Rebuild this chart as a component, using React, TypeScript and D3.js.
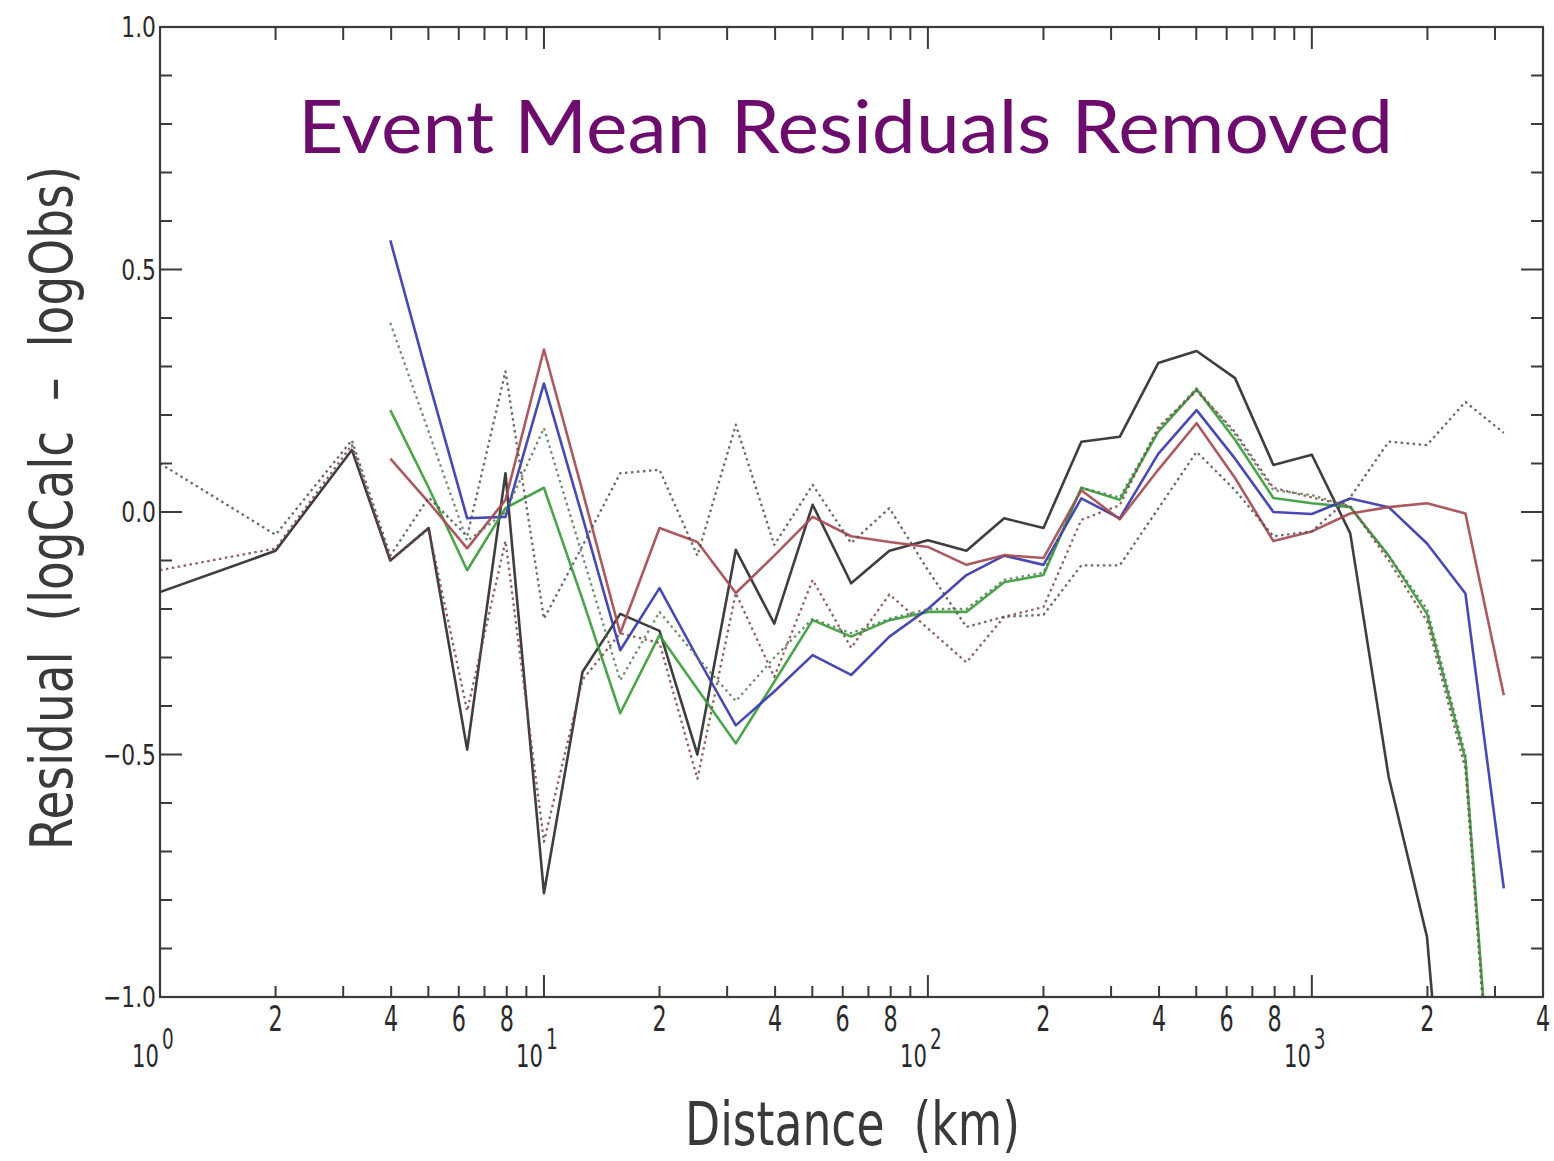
import React from "react";
import * as d3 from "d3";

// Hypocentral distance bins (km)
const distances = [1, 2, 3.16, 3.98, 5.01, 6.31, 7.94, 10, 12.6, 15.8, 20, 25.1, 31.6, 39.8, 50.1, 63.1, 79.4, 100, 126, 158, 200, 251, 316, 398, 501, 631, 794, 1000, 1259, 1585, 1995, 2512, 3162];

// Mean residual per distance bin for each model (null = no data in bin)
const blackSolid = [-0.165, -0.08, 0.128, -0.1, -0.033, -0.49, 0.08, -0.786, -0.33, -0.21, -0.245, -0.5, -0.078, -0.23, 0.015, -0.147, -0.08, -0.058, -0.08, -0.013, -0.033, 0.145, 0.155, 0.307, 0.332, 0.276, 0.097, 0.118, -0.044, -0.546, -0.876, -1.8, null];
const blueSolid = [null, null, null, 0.56, 0.27, -0.013, -0.01, 0.265, -0.01, -0.285, -0.157, -0.3, -0.44, -0.37, -0.295, -0.336, -0.257, -0.2, -0.13, -0.09, -0.109, 0.028, -0.013, 0.12, 0.21, 0.11, 0.0, -0.004, 0.028, 0.01, -0.065, -0.168, -0.776];
const redSolid = [null, null, null, 0.11, 0.02, -0.075, 0.025, 0.335, 0.043, -0.25, -0.033, -0.062, -0.167, -0.09, -0.01, -0.05, -0.062, -0.072, -0.109, -0.089, -0.095, 0.045, -0.015, 0.087, 0.183, 0.07, -0.06, -0.04, -0.003, 0.01, 0.018, -0.003, -0.378];
const greenSolid = [null, null, null, 0.21, 0.05, -0.12, 0.008, 0.05, -0.18, -0.415, -0.254, -0.365, -0.477, -0.35, -0.223, -0.257, -0.223, -0.206, -0.206, -0.145, -0.13, 0.05, 0.025, 0.165, 0.253, 0.149, 0.029, 0.018, 0.01, -0.09, -0.21, -0.51, -1.57];
const grayDotted = [0.1, -0.047, 0.148, -0.09, 0.03, -0.05, 0.29, -0.22, -0.07, 0.08, 0.087, -0.09, 0.18, -0.068, 0.056, -0.064, 0.008, -0.12, -0.237, -0.216, -0.212, -0.11, -0.11, 0.007, 0.124, 0.045, -0.05, -0.04, 0.03, 0.145, 0.138, 0.227, 0.163];
const brownDotted = [-0.12, -0.075, 0.138, -0.1, -0.035, -0.41, -0.06, -0.68, -0.346, -0.25, -0.27, -0.55, -0.167, -0.34, -0.14, -0.28, -0.17, -0.24, -0.31, -0.216, -0.196, -0.016, 0.014, 0.175, 0.25, 0.165, 0.05, 0.03, 0.012, -0.1, -0.225, -0.53, -1.6];
const greenDotted = [null, null, null, 0.39, 0.165, -0.06, -0.0, 0.173, -0.09, -0.347, -0.206, -0.3, -0.39, -0.3, -0.22, -0.25, -0.22, -0.2, -0.2, -0.14, -0.125, 0.05, 0.03, 0.17, 0.255, 0.16, 0.045, 0.035, 0.01, -0.09, -0.2, -0.5, -1.6];

const yTickLabels = ["-1.0", "-0.5", "0.0", "0.5", "1.0"];
const decades = [1, 10, 100, 1000];
const decadeExponents = ["0", "1", "2", "3"];
const minorLabelDigits = [2, 4, 6, 8];

const W = 1554;
const H = 1161;
const left = 160;
const right = 1543;
const top = 27;
const bottom = 997;
const axisColor = "#3a3a3a";
const digitFont = "'DejaVu Sans', sans-serif";
const gap = "\u00a0\u00a0";

const x = d3.scaleLog().domain([1, 4000]).range([left, right]);
const y = d3.scaleLinear().domain([-1, 1]).range([bottom, top]);

const lineGen = d3
  .line<[number, number | null]>()
  .defined((d) => d[1] !== null)
  .x((d) => x(d[0]))
  .y((d) => y(d[1] as number));

function pathFor(values: (number | null)[]) {
  return lineGen(distances.map((d, i) => [d, values[i]] as [number, number | null])) || "";
}

type NarrowProps = {
  x: number;
  y: number;
  size: number;
  sx?: number;
  anchor?: "start" | "middle" | "end";
  children: React.ReactNode;
};

function NarrowText({ x: tx, y: ty, size, sx = 0.7, anchor = "middle", children }: NarrowProps) {
  return (
    <text
      transform={`translate(${tx},${ty}) scale(${sx},1)`}
      fontFamily={digitFont}
      fontSize={size}
      textAnchor={anchor}
      fill="#2a2a2a"
    >
      {children}
    </text>
  );
}

export default function App() {
  const xMinor: number[] = [];
  decades.forEach((dec) => {
    for (let k = 2; k <= 9; k++) {
      const v = k * dec;
      if (v < 4000) xMinor.push(v);
    }
  });
  const yMinor = d3.range(-10, 11).map((k) => k / 10);
  const yMajor = [-1, -0.5, 0, 0.5, 1];

  const minorLabelValues: number[] = [];
  decades.forEach((dec) => {
    minorLabelDigits.forEach((k) => {
      if (k * dec <= 4000) minorLabelValues.push(k * dec);
    });
  });

  const series = [
    { values: blackSolid, color: "#2e2e2e", dash: undefined, w: 2.6 },
    { values: greenSolid, color: "#3d9c3d", dash: undefined, w: 2.6 },
    { values: blueSolid, color: "#3a3aac", dash: undefined, w: 2.6 },
    { values: redSolid, color: "#a34c52", dash: undefined, w: 2.6 },
    { values: grayDotted, color: "#505050", dash: "2.5 3.5", w: 2.3 },
    { values: brownDotted, color: "#7d4545", dash: "2.5 3.5", w: 2.3 },
    { values: greenDotted, color: "#557a55", dash: "2.5 3.5", w: 2.3 },
  ];

  return (
    <svg
      width={W}
      height={H}
      viewBox={`0 0 ${W} ${H}`}
      style={{ position: "absolute", left: 0, top: 0, background: "#ffffff" }}
    >
      <defs>
        <clipPath id="plotArea">
          <rect x={left} y={top} width={right - left} height={bottom - top} />
        </clipPath>
      </defs>
      <rect x={0} y={0} width={W} height={H} fill="#ffffff" />

      {/* residual curves */}
      <g clipPath="url(#plotArea)" fill="none" strokeLinejoin="round">
        {series.map((s, i) => (
          <path
            key={i}
            d={pathFor(s.values)}
            stroke={s.color}
            strokeWidth={s.w}
            strokeDasharray={s.dash}
            opacity={s.dash ? 0.85 : 0.92}
          />
        ))}
      </g>

      {/* frame */}
      <rect
        x={left}
        y={top}
        width={right - left}
        height={bottom - top}
        fill="none"
        stroke={axisColor}
        strokeWidth={2.2}
      />

      {/* y ticks, left and right */}
      <g stroke={axisColor} strokeWidth={2}>
        {yMinor.map((v) => {
          const major = yMajor.some((m) => Math.abs(m - v) < 1e-6);
          const len = major ? 22 : 12;
          return (
            <g key={v}>
              <line x1={left} x2={left + len} y1={y(v)} y2={y(v)} />
              <line x1={right} x2={right - len} y1={y(v)} y2={y(v)} />
            </g>
          );
        })}
      </g>

      {/* x ticks, bottom and top */}
      <g stroke={axisColor} strokeWidth={2}>
        {decades.map((v) => (
          <g key={"M" + v}>
            <line x1={x(v)} x2={x(v)} y1={bottom} y2={bottom - 22} />
            <line x1={x(v)} x2={x(v)} y1={top} y2={top + 22} />
          </g>
        ))}
        {xMinor.map((v) => (
          <g key={"m" + v}>
            <line x1={x(v)} x2={x(v)} y1={bottom} y2={bottom - 11} />
            <line x1={x(v)} x2={x(v)} y1={top} y2={top + 13} />
          </g>
        ))}
      </g>

      {/* y tick labels */}
      {yMajor.map((v, i) => (
        <NarrowText key={v} x={156} y={y(v) + 10} size={28} sx={0.78} anchor="end">
          {yTickLabels[i].replace("-", "\u2212")}
        </NarrowText>
      ))}

      {/* x minor tick labels */}
      {minorLabelValues.map((v) => (
        <NarrowText key={v} x={x(v)} y={1031} size={36} sx={0.62}>
          {String(Math.round(v / Math.pow(10, Math.floor(Math.log10(v) + 1e-9))))}
        </NarrowText>
      ))}

      {/* decade labels */}
      {decades.map((v, i) => (
        <g key={"d" + v}>
          <NarrowText x={x(v) - 1} y={1067} size={32} sx={0.66} anchor="end">
            10
          </NarrowText>
          <NarrowText x={x(v) + 2} y={1049} size={28} sx={0.66} anchor="start">
            {decadeExponents[i]}
          </NarrowText>
        </g>
      ))}

      {/* axis titles */}
      <text
        x={685}
        y={1145}
        fontFamily={digitFont}
        fontSize={60}
        textLength={335}
        lengthAdjust="spacingAndGlyphs"
        fill="#3a3a3a"
      >
        {`Distance${gap}(km)`}
      </text>
      <text
        transform="translate(72,850) rotate(-90)"
        fontFamily={digitFont}
        fontSize={58}
        textLength={684}
        lengthAdjust="spacingAndGlyphs"
        fill="#3a3a3a"
      >
        {`Residual${gap}(logCalc${gap}\u2013${gap}logObs)`}
      </text>

      {/* chart title */}
      <text
        x={298}
        y={153}
        fontFamily="Lato, 'Open Sans', sans-serif"
        fontSize={74}
        textLength={1095}
        lengthAdjust="spacingAndGlyphs"
        fill="#6c0c6c"
      >
        Event Mean Residuals Removed
      </text>
    </svg>
  );
}
